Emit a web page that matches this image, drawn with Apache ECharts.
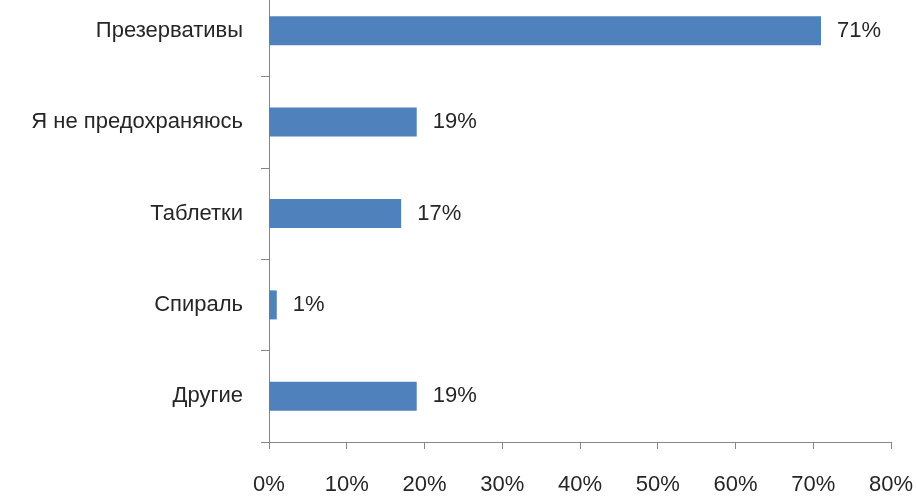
<!DOCTYPE html>
<html>
<head>
<meta charset="utf-8">
<script src="https://cdn.jsdelivr.net/npm/echarts@6/dist/echarts.min.js"></script>
<style>
  html, body { margin: 0; padding: 0; background: #fff; overflow: hidden; }
  /* верх области построения в оригинале обрезан — сдвигаем холст вверх */
  #chart { width: 916px; height: 511px; margin-top: -15px; }
</style>
</head>
<body>
<div id="chart"></div>
<script>
// категории сверху вниз
const categories = ['Презервативы', 'Я не предохраняюсь', 'Таблетки', 'Спираль', 'Другие']
const values = [71, 19, 17, 1, 19]

const font = 'Liberation Sans'
const axisColor = '#868686'

const myChart = echarts.init(document.getElementById('chart'))

const option = {
  animation: false,
  grid: { left: 269, right: 25, top: 0, bottom: 54, containLabel: false },
  xAxis: {
    type: 'value',
    min: 0,
    max: 80,
    interval: 10,
    axisLine: { show: true, lineStyle: { color: axisColor, width: 1 } },
    axisTick: { show: true, length: 7, lineStyle: { color: axisColor } },
    splitLine: { show: false },
    axisLabel: {
      formatter: '{value}%',
      margin: 32,
      fontSize: 22,
      fontFamily: font,
      color: '#262626'
    }
  },
  yAxis: {
    type: 'category',
    data: categories,
    inverse: true,
    axisLine: { show: true, lineStyle: { color: axisColor, width: 1 } },
    axisTick: { show: true, length: 8, lineStyle: { color: axisColor } },
    axisLabel: {
      margin: 26,
      fontSize: 22,
      fontFamily: font,
      color: '#262626'
    }
  },
  series: [
    {
      type: 'bar',
      data: values,
      barWidth: 29,
      itemStyle: { color: '#4F81BD' },
      label: {
        show: true,
        position: 'right',
        distance: 16,
        formatter: '{c}%',
        fontSize: 22,
        fontFamily: font,
        color: '#262626'
      }
    }
  ]
}
myChart.setOption(option)
</script>
</body>
</html>
